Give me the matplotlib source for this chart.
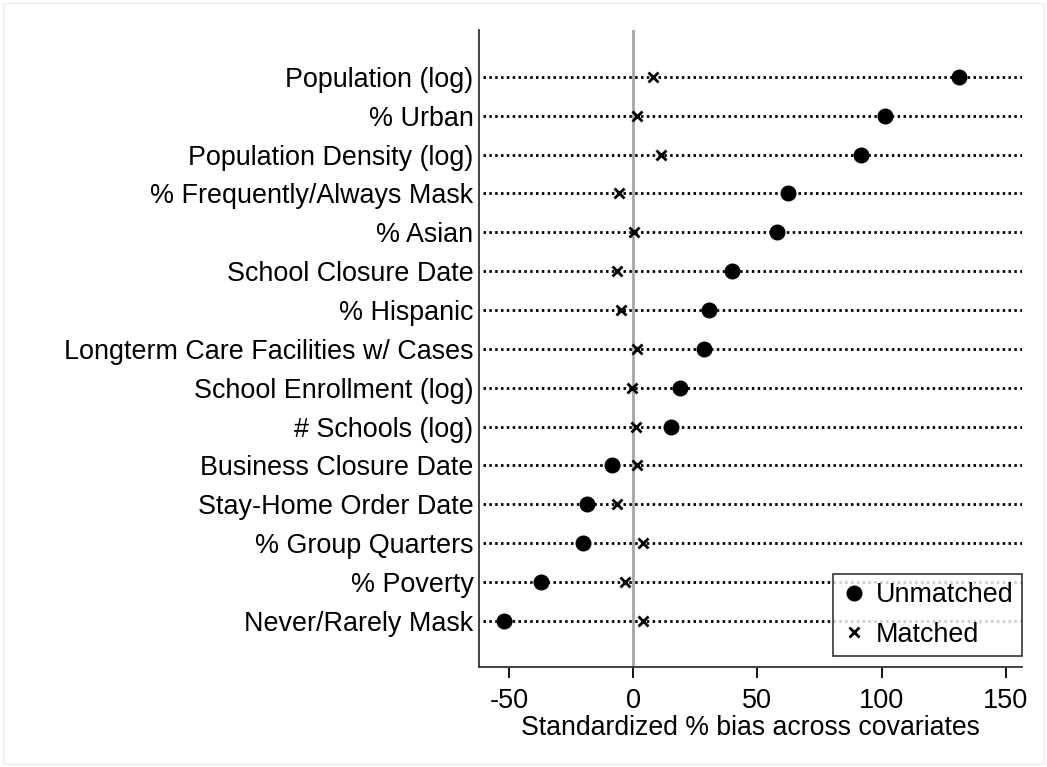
import numpy as np
import matplotlib.pyplot as plt
from matplotlib.patches import Rectangle

plt.rcParams['font.family'] = ['Liberation Sans', 'DejaVu Sans']

covariates = ["Population (log)", "% Urban", "Population Density (log)",
              "% Frequently/Always Mask", "% Asian", "School Closure Date",
              "% Hispanic", "Longterm Care Facilities w/ Cases",
              "School Enrollment (log)", "# Schools (log)",
              "Business Closure Date", "Stay-Home Order Date",
              "% Group Quarters", "% Poverty", "Never/Rarely Mask"]
unmatched = [131.2, 101.4, 91.7, 62.2, 57.7, 39.6, 30.4, 28.6,
             18.8, 15.4, -8.7, -18.6, -20.4, -37.1, -51.9]
matched = [8.1, 1.4, 11.0, -5.6, 0.2, -6.7, -5.0, 1.4,
           -0.4, 1.0, 1.6, -6.4, 4.1, -3.4, 4.0]
xticks = [-50, 0, 50, 100, 150]

fig = plt.figure(figsize=(10.47, 7.67), dpi=100)
ax = fig.add_axes([0.4575, 0.1308, 0.976 - 0.4575, 0.961 - 0.1308])

ypos = np.arange(len(covariates))
xmin, xmax = -62.1, 156.5

# dotted guide line per covariate
for y in ypos:
    ax.plot([xmin + 1.5, xmax], [y, y], color='black', lw=2.0,
            linestyle=(0, (0.9, 1.2)), zorder=1)

ax.axvline(0, color='#a6a6a6', lw=2, zorder=2)

ax.plot(unmatched, ypos, 'o', color='black', markersize=10.5,
        linestyle='none', label='Unmatched', zorder=3)
ax.plot(matched, ypos, 'x', color='black', markersize=6.5, mew=2,
        linestyle='none', label='Matched', zorder=3)

ax.set_xlim(xmin, xmax)
ax.set_ylim(len(covariates) - 1 + 1.18, -1.21)
ax.set_yticks(ypos)
ax.set_yticklabels(covariates, fontsize=19.4)
ax.set_xticks(xticks)
ax.set_xticklabels([str(t) for t in xticks], fontsize=19.5)
ax.tick_params(axis='y', length=0, pad=4)
ax.tick_params(axis='x', length=8, width=1.3, pad=7)
ax.set_xlabel('Standardized % bias across covariates', fontsize=19.2, labelpad=1)

for side in ['top', 'right']:
    ax.spines[side].set_visible(False)
for side in ['left', 'bottom']:
    ax.spines[side].set_linewidth(1.3)
    ax.spines[side].set_color('#333333')

leg = ax.legend(loc='lower right', bbox_to_anchor=(1.0, 0.017), fontsize=19.4,
                frameon=True, fancybox=False, borderaxespad=0,
                handletextpad=0.3, handlelength=1.0, borderpad=0.3,
                labelspacing=0.5)
leg.get_frame().set_edgecolor('black')
leg.get_frame().set_linewidth(1.2)

# thin outer border of the graph region
fig.patches.append(Rectangle((3 / 1047, 3 / 767), 1 - 6 / 1047, 1 - 6 / 767,
                             transform=fig.transFigure, fill=False,
                             edgecolor='#e8edf0', lw=1.0))

fig.savefig('out.png', dpi=100)
